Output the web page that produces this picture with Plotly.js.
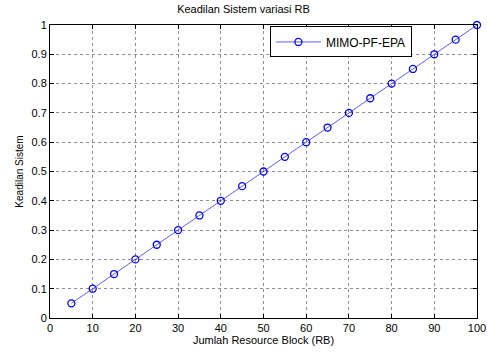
<!DOCTYPE html>
<html><head><meta charset="utf-8">
<script src="https://cdn.plot.ly/plotly-3.0.1.min.js"></script>
<style>html,body{margin:0;padding:0;background:#fff}#c{width:487px;height:352px}</style>
</head><body><div id="c"></div>
<script>
const rb = [5,10,15,20,25,30,35,40,45,50,55,60,65,70,75,80,85,90,95,100];
const fairness = [0.05,0.10,0.15,0.20,0.25,0.30,0.35,0.40,0.45,0.50,0.55,0.60,0.65,0.70,0.75,0.80,0.85,0.90,0.95,1.00];
const xTicks = [0,10,20,30,40,50,60,70,80,90,100];
const yTicks = [0,0.1,0.2,0.3,0.4,0.5,0.6,0.7,0.8,0.9,1];
const yTickText = ['0','0.1','0.2','0.3','0.4','0.5','0.6','0.7','0.8','0.9','1'];

const font = {family:'Liberation Sans, Arial, sans-serif', size:11, color:'#000'};
const trace = {x:rb, y:fairness, mode:'lines+markers', name:'MIMO-PF-EPA',
  line:{color:'#3333ff', width:0.8},
  marker:{symbol:'circle-open', size:7, color:'#0000ff', line:{width:1.3, color:'#0000ff'}},
  cliponaxis:false};
const layout = {
  width:487, height:352, paper_bgcolor:'#fff', plot_bgcolor:'#fff',
  margin:{l:50, r:10, t:25, b:34},
  font:font,
  title:{text:'Keadilan Sistem variasi RB', font:{family:font.family,size:11,color:'#000'}, x:0.5, xanchor:'center', y:0.985, yanchor:'top'},
  xaxis:{range:[0,100], tickvals:xTicks, ticktext:xTicks.map(String), ticks:'inside', ticklen:4, tickcolor:'#000',
    ticklabeloverflow:'allow',
    showgrid:true, gridcolor:'#444', griddash:'dot', gridwidth:0.6, zeroline:false,
    showline:true, linecolor:'#000', linewidth:1, mirror:'ticks',
    title:{text:'Jumlah Resource Block (RB)', font:{family:font.family,size:11,color:'#000'}, standoff:2},
    tickfont:{family:font.family,size:11,color:'#000'}},
  yaxis:{range:[0,1], tickvals:yTicks, ticktext:yTickText, ticks:'inside', ticklen:4, tickcolor:'#000',
    ticklabeloverflow:'allow',
    showgrid:true, gridcolor:'#444', griddash:'dot', gridwidth:0.6, zeroline:false,
    showline:true, linecolor:'#000', linewidth:1, mirror:'ticks',
    title:{text:'Keadilan Sistem', font:{family:font.family,size:10,color:'#000'}, standoff:6},
    tickfont:{family:font.family,size:11,color:'#000'}},
  showlegend:true,
  legend:{x:0.515, y:0.995, xanchor:'left', yanchor:'top', bgcolor:'#fff', bordercolor:'#000', borderwidth:1,
    font:{family:font.family,size:12,color:'#000'}, itemwidth:45, tracegroupgap:0}
};
Plotly.newPlot('c',[trace],layout,{displayModeBar:false,staticPlot:true});
</script></body></html>
